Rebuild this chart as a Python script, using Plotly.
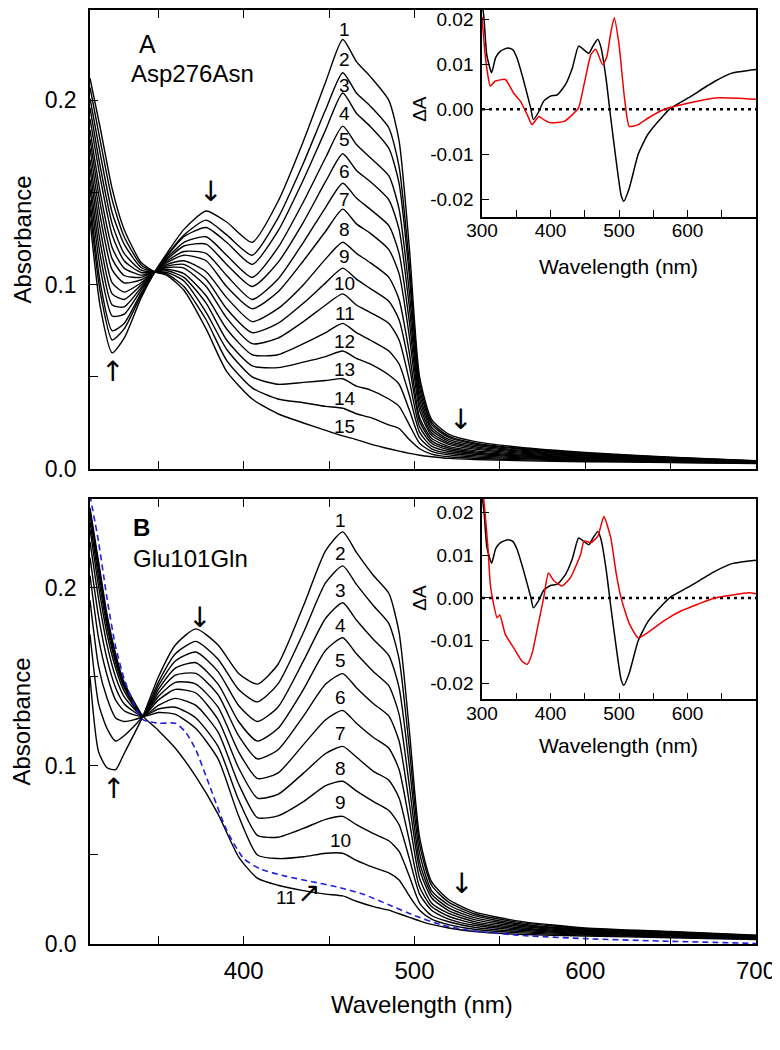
import plotly.graph_objects as go

# ---------------- Panel A: Asp276Asn spectra ----------------
WL_A = [310, 316, 323, 330, 340, 348, 355, 365, 378, 390, 405, 420, 435, 448, 458, 466, 474, 485, 491, 497, 503, 510, 520, 535, 560, 600, 650, 700]
A1 = [0.135, 0.088, 0.063, 0.071, 0.093, 0.107, 0.117, 0.130, 0.140, 0.134, 0.123, 0.145, 0.178, 0.210, 0.233, 0.221, 0.213, 0.200, 0.178, 0.120, 0.050, 0.027, 0.019, 0.015, 0.012, 0.009, 0.0065, 0.0045]
A2 = [0.141, 0.096, 0.070, 0.076, 0.0945, 0.107, 0.116, 0.127, 0.135, 0.127, 0.116, 0.136, 0.166, 0.195, 0.215, 0.204, 0.197, 0.185, 0.164, 0.111, 0.047, 0.0254, 0.0179, 0.0142, 0.0114, 0.0086, 0.0063, 0.0044]
A3 = [0.146, 0.101, 0.075, 0.079, 0.0956, 0.107, 0.1154, 0.126, 0.131, 0.123, 0.111, 0.129, 0.157, 0.184, 0.204, 0.193, 0.186, 0.174, 0.155, 0.105, 0.044, 0.0242, 0.0172, 0.0137, 0.0110, 0.0083, 0.0061, 0.0043]
A4 = [0.152, 0.109, 0.083, 0.084, 0.0972, 0.107, 0.1144, 0.123, 0.126, 0.116, 0.104, 0.120, 0.145, 0.169, 0.186, 0.176, 0.169, 0.159, 0.141, 0.096, 0.041, 0.0226, 0.0161, 0.0129, 0.0104, 0.0079, 0.0058, 0.0042]
A5 = [0.157, 0.116, 0.089, 0.088, 0.0985, 0.107, 0.1136, 0.121, 0.122, 0.111, 0.099, 0.112, 0.134, 0.156, 0.171, 0.162, 0.156, 0.146, 0.130, 0.088, 0.038, 0.0212, 0.0152, 0.0122, 0.0099, 0.0076, 0.0056, 0.0041]
A6 = [0.163, 0.123, 0.095, 0.092, 0.0999, 0.107, 0.1127, 0.118, 0.117, 0.105, 0.092, 0.103, 0.123, 0.142, 0.155, 0.147, 0.141, 0.132, 0.117, 0.080, 0.035, 0.0197, 0.0142, 0.0115, 0.0093, 0.0072, 0.0054, 0.0040]
A7 = [0.168, 0.130, 0.101, 0.096, 0.1011, 0.107, 0.1119, 0.116, 0.113, 0.099, 0.087, 0.096, 0.113, 0.129, 0.141, 0.133, 0.128, 0.119, 0.106, 0.072, 0.032, 0.0183, 0.0134, 0.0108, 0.0088, 0.0069, 0.0052, 0.0039]
A8 = [0.174, 0.137, 0.108, 0.101, 0.1027, 0.107, 0.1109, 0.113, 0.107, 0.093, 0.080, 0.087, 0.100, 0.114, 0.123, 0.117, 0.112, 0.104, 0.092, 0.063, 0.028, 0.0167, 0.0123, 0.0100, 0.0082, 0.0065, 0.0050, 0.0037]
A9 = [0.179, 0.144, 0.114, 0.105, 0.104, 0.107, 0.1101, 0.111, 0.103, 0.087, 0.074, 0.079, 0.090, 0.101, 0.109, 0.103, 0.098, 0.091, 0.081, 0.056, 0.026, 0.0153, 0.0114, 0.0093, 0.0077, 0.0061, 0.0048, 0.0036]
A10 = [0.184, 0.150, 0.120, 0.109, 0.1052, 0.107, 0.1093, 0.109, 0.099, 0.082, 0.068, 0.071, 0.080, 0.089, 0.095, 0.089, 0.085, 0.079, 0.070, 0.048, 0.023, 0.0140, 0.0105, 0.0087, 0.0072, 0.0058, 0.0046, 0.0035]
A11 = [0.190, 0.158, 0.127, 0.113, 0.1066, 0.107, 0.1084, 0.106, 0.094, 0.076, 0.062, 0.062, 0.068, 0.074, 0.079, 0.074, 0.070, 0.064, 0.057, 0.040, 0.020, 0.0124, 0.0095, 0.0080, 0.0067, 0.0054, 0.0044, 0.0034]
A12 = [0.196, 0.164, 0.133, 0.117, 0.1079, 0.107, 0.1076, 0.104, 0.090, 0.070, 0.056, 0.055, 0.058, 0.061, 0.064, 0.060, 0.057, 0.051, 0.046, 0.032, 0.017, 0.0110, 0.0086, 0.0073, 0.0062, 0.0051, 0.0041, 0.0033]
A13 = [0.201, 0.171, 0.139, 0.122, 0.1093, 0.107, 0.1067, 0.102, 0.085, 0.065, 0.050, 0.046, 0.047, 0.048, 0.049, 0.045, 0.043, 0.038, 0.034, 0.024, 0.014, 0.0096, 0.0077, 0.0066, 0.0057, 0.0047, 0.0039, 0.0032]
A14 = [0.207, 0.178, 0.146, 0.126, 0.1107, 0.107, 0.1058, 0.099, 0.081, 0.059, 0.044, 0.038, 0.036, 0.034, 0.033, 0.030, 0.028, 0.024, 0.022, 0.016, 0.011, 0.0081, 0.0067, 0.0059, 0.0051, 0.0044, 0.0037, 0.0031]
A15 = [0.212, 0.185, 0.152, 0.130, 0.112, 0.107, 0.105, 0.097, 0.076, 0.053, 0.038, 0.030, 0.025, 0.021, 0.018, 0.016, 0.0137, 0.011, 0.0097, 0.0085, 0.0075, 0.0067, 0.0058, 0.0052, 0.0046, 0.004, 0.0035, 0.003]
A_CURVES = [A1, A2, A3, A4, A5, A6, A7, A8, A9, A10, A11, A12, A13, A14, A15]
A_LABELS = [str(i) for i in range(1, 16)]
A_LABEL_WL = 459.3
A_LABEL_Y = [0.2386, 0.2219, 0.2083, 0.1926, 0.1786, 0.1613, 0.1461, 0.1299, 0.1153, 0.1006, 0.0844, 0.0693, 0.0541, 0.0384, 0.0233]

# ---------------- Panel B: Glu101Gln spectra ----------------
WL_B = [310, 315, 320, 325, 330, 341, 350, 360, 372, 385, 397, 408, 420, 435, 448, 458, 466, 476, 485, 491, 497, 503, 510, 520, 535, 560, 600, 650, 700]
B1 = [0.150, 0.108, 0.099, 0.098, 0.107, 0.128, 0.150, 0.168, 0.177, 0.168, 0.152, 0.146, 0.157, 0.190, 0.221, 0.2315, 0.220, 0.207, 0.197, 0.175, 0.120, 0.060, 0.035, 0.025, 0.018, 0.013, 0.009, 0.007, 0.005]
B2 = [0.174, 0.135, 0.121, 0.114, 0.117, 0.128, 0.147, 0.163, 0.170, 0.160, 0.143, 0.136, 0.146, 0.175, 0.203, 0.2124, 0.202, 0.190, 0.180, 0.160, 0.110, 0.056, 0.033, 0.0235, 0.017, 0.0123, 0.0086, 0.0067, 0.0048]
B3 = [0.193, 0.156, 0.138, 0.127, 0.125, 0.128, 0.145, 0.159, 0.164, 0.153, 0.134, 0.125, 0.133, 0.159, 0.183, 0.1917, 0.182, 0.171, 0.162, 0.144, 0.100, 0.051, 0.030, 0.0219, 0.0159, 0.0115, 0.0081, 0.0063, 0.0045]
B4 = [0.207, 0.172, 0.151, 0.137, 0.131, 0.128, 0.143, 0.155, 0.158, 0.146, 0.125, 0.114, 0.121, 0.143, 0.165, 0.1720, 0.163, 0.153, 0.145, 0.129, 0.089, 0.046, 0.028, 0.0203, 0.0148, 0.0108, 0.0077, 0.006, 0.0043]
B5 = [0.217, 0.184, 0.160, 0.144, 0.135, 0.128, 0.141, 0.151, 0.152, 0.140, 0.117, 0.104, 0.109, 0.128, 0.146, 0.1519, 0.144, 0.135, 0.128, 0.114, 0.079, 0.042, 0.026, 0.0188, 0.0137, 0.0101, 0.0072, 0.0056, 0.004]
B6 = [0.226, 0.194, 0.168, 0.150, 0.139, 0.128, 0.139, 0.147, 0.146, 0.133, 0.108, 0.093, 0.096, 0.112, 0.126, 0.1312, 0.124, 0.116, 0.110, 0.098, 0.069, 0.037, 0.023, 0.0172, 0.0126, 0.0093, 0.0068, 0.0053, 0.0038]
B7 = [0.233, 0.201, 0.174, 0.155, 0.142, 0.128, 0.137, 0.143, 0.141, 0.126, 0.099, 0.082, 0.084, 0.096, 0.107, 0.1110, 0.105, 0.097, 0.092, 0.082, 0.058, 0.032, 0.021, 0.0156, 0.0115, 0.0086, 0.0063, 0.0049, 0.0035]
B8 = [0.237, 0.206, 0.178, 0.158, 0.144, 0.128, 0.134, 0.138, 0.134, 0.119, 0.090, 0.071, 0.072, 0.080, 0.089, 0.0914, 0.086, 0.080, 0.075, 0.067, 0.048, 0.028, 0.019, 0.014, 0.0105, 0.0079, 0.0059, 0.0046, 0.0033]
B9 = [0.241, 0.210, 0.181, 0.160, 0.145, 0.128, 0.132, 0.133, 0.127, 0.111, 0.081, 0.061, 0.060, 0.065, 0.070, 0.0717, 0.067, 0.062, 0.058, 0.052, 0.038, 0.023, 0.016, 0.0125, 0.0094, 0.0071, 0.0055, 0.0043, 0.003]
B10 = [0.243, 0.213, 0.183, 0.162, 0.146, 0.128, 0.130, 0.129, 0.121, 0.104, 0.072, 0.050, 0.048, 0.049, 0.051, 0.0510, 0.047, 0.043, 0.040, 0.036, 0.027, 0.019, 0.014, 0.0109, 0.0083, 0.0064, 0.005, 0.0039, 0.0028]
B11 = [0.245, 0.215, 0.185, 0.163, 0.147, 0.128, 0.120, 0.110, 0.094, 0.073, 0.049, 0.037, 0.033, 0.030, 0.028, 0.027, 0.024, 0.021, 0.019, 0.017, 0.015, 0.013, 0.011, 0.009, 0.007, 0.0055, 0.0045, 0.0035, 0.0025]
B_CURVES = [B1, B2, B3, B4, B5, B6, B7, B8, B9, B10, B11]
B_LABELS = [str(i) for i in range(1, 11)]
B_LABEL_WL = 456.5
B_LABEL_Y = [0.2377, 0.2192, 0.1984, 0.1788, 0.1592, 0.1385, 0.1183, 0.0987, 0.0796, 0.0583]

WL_BLUE = [310, 315, 320, 325, 330, 336, 341, 350, 360, 366, 372, 380, 390, 400, 410, 425, 440, 455, 470, 485, 500, 515, 530, 560, 600, 650, 700]
BLUE = [0.252, 0.226, 0.194, 0.167, 0.149, 0.134, 0.126, 0.124, 0.124, 0.119, 0.109, 0.089, 0.064, 0.048, 0.042, 0.038, 0.035, 0.032, 0.028, 0.022, 0.016, 0.011, 0.008, 0.005, 0.003, 0.0015, 0.0003]

# ---------------- Insets: difference spectra ----------------
WL_DIFF_BLACK = [300, 303, 307, 314, 320, 327, 338, 345, 351, 361, 371, 375, 383, 390, 400, 410, 422, 432, 441, 451, 456, 462, 469, 474, 481, 488, 496, 503, 507, 515, 528, 542, 566, 576, 601, 640, 665, 700]
DIFF_BLACK = [0.024, 0.020, 0.012, 0.0081, 0.0115, 0.0129, 0.0136, 0.0132, 0.0114, 0.0062, 0.0003, -0.0023, -0.0005, 0.0018, 0.0029, 0.0032, 0.0055, 0.0092, 0.014, 0.0129, 0.0124, 0.014, 0.0155, 0.0135, 0.0069, -0.002, -0.0116, -0.019, -0.0204, -0.0175, -0.010, -0.0056, -0.0012, 0.0003, 0.0025, 0.0062, 0.008, 0.0088]
WL_RED_A = [300, 304, 307, 312, 319, 334, 346, 356, 366, 373, 383, 390, 400, 420, 432, 441, 449, 459, 466, 476, 482, 488, 493, 500, 508, 515, 528, 542, 566, 591, 640, 700]
RED_A = [0.0205, 0.013, 0.0091, 0.0051, 0.0062, 0.0066, 0.0036, 0.0018, -0.0012, -0.0034, -0.0016, -0.0023, -0.003, -0.0027, -0.0012, 0.0003, 0.0055, 0.0121, 0.0133, 0.0099, 0.0115, 0.017, 0.0203, 0.0144, 0.0025, -0.0038, -0.0034, -0.002, 0.0, 0.001, 0.0025, 0.0022]
WL_RED_B = [302, 306, 309, 312, 316, 322, 326, 334, 346, 358, 366, 373, 381, 390, 397, 405, 417, 429, 444, 449, 459, 469, 478, 488, 496, 503, 515, 528, 542, 566, 591, 616, 640, 690, 700]
RED_B = [0.024, 0.017, 0.011, 0.0033, -0.0007, -0.0046, -0.004, -0.0085, -0.0116, -0.0147, -0.0155, -0.013, -0.007, 0.0, 0.0058, 0.004, 0.0028, 0.0047, 0.0102, 0.0133, 0.0129, 0.0144, 0.019, 0.014, 0.0056, 0.0, -0.006, -0.0093, -0.0081, -0.0053, -0.003, -0.0014, 0.0, 0.0012, 0.001]

MAIN_X_TICKS = [400, 500, 600, 700]
MAIN_Y_TICKS = [0.0, 0.1, 0.2]
INSET_X_TICKS = [300, 400, 500, 600]
INSET_Y_TICKS = [-0.02, -0.01, 0.0, 0.01, 0.02]

FONT = "Liberation Sans, Arial, Helvetica, sans-serif"
ARROW_FONT = "DejaVu Sans"

fig = go.Figure()

line_main = dict(color="black", width=1.4, shape="spline", smoothing=0.6)
for c in A_CURVES:
    fig.add_trace(go.Scatter(x=WL_A, y=c, mode="lines", line=line_main, xaxis="x", yaxis="y", hoverinfo="skip"))
for c in B_CURVES:
    fig.add_trace(go.Scatter(x=WL_B, y=c, mode="lines", line=line_main, xaxis="x2", yaxis="y2", hoverinfo="skip"))
fig.add_trace(go.Scatter(x=WL_BLUE, y=BLUE, mode="lines", xaxis="x2", yaxis="y2", hoverinfo="skip",
                         line=dict(color="#1f1fdd", width=1.6, dash="6px,4px", shape="spline", smoothing=0.6)))

# insets
line_in_k = dict(color="black", width=1.5, shape="spline", smoothing=0.5)
line_in_r = dict(color="#ee0000", width=1.5, shape="spline", smoothing=0.5)
fig.add_trace(go.Scatter(x=WL_DIFF_BLACK, y=DIFF_BLACK, mode="lines", line=line_in_k, xaxis="x3", yaxis="y3", hoverinfo="skip"))
fig.add_trace(go.Scatter(x=WL_RED_A, y=RED_A, mode="lines", line=line_in_r, xaxis="x3", yaxis="y3", hoverinfo="skip"))
fig.add_trace(go.Scatter(x=WL_DIFF_BLACK, y=DIFF_BLACK, mode="lines", line=line_in_k, xaxis="x4", yaxis="y4", hoverinfo="skip"))
fig.add_trace(go.Scatter(x=WL_RED_B, y=RED_B, mode="lines", line=line_in_r, xaxis="x4", yaxis="y4", hoverinfo="skip"))

# empty traces to activate top-tick overlay axes
fig.add_trace(go.Scatter(x=[], y=[], xaxis="x5", yaxis="y", hoverinfo="skip"))
fig.add_trace(go.Scatter(x=[], y=[], xaxis="x6", yaxis="y2", hoverinfo="skip"))

tick_common = dict(ticks="inside", tickcolor="black", tickwidth=1.3, showgrid=False, zeroline=False,
                   linecolor="black", linewidth=1.5)

def main_x(anchor, labels):
    return dict(domain=[0, 1], anchor=anchor, range=[310, 700], showline=True, mirror=True,
                tickvals=MAIN_X_TICKS, ticklen=8, showticklabels=labels, tickfont=dict(size=24),
                ticklabelstandoff=4,
                minor=dict(ticks="inside", ticklen=8, tickvals=[350, 450, 550, 650], tickcolor="black", tickwidth=1.3, showgrid=False),
                **tick_common)

def main_y(domain, anchor, top):
    return dict(domain=domain, anchor=anchor, range=[0, top], showline=True, mirror=True,
                tickvals=MAIN_Y_TICKS, ticktext=["0.0", "0.1", "0.2"], ticklen=8, tickfont=dict(size=23),
                ticklabelstandoff=7,
                minor=dict(ticks="inside", ticklen=8, tickvals=[0.05, 0.15], tickcolor="black", tickwidth=1.3, showgrid=False),
                **tick_common)

def top_x(overlay, anchor):
    return dict(overlaying=overlay, anchor=anchor, side="top", range=[310, 700], showline=False,
                tickvals=[350, 400, 450, 500], ticks="inside", ticklen=8, tickcolor="black", tickwidth=1.3,
                showticklabels=False, showgrid=False, zeroline=False)

def inset_x(anchor):
    return dict(domain=[0.5886, 1], anchor=anchor, range=[300, 700], showline=True, mirror=False,
                tickvals=INSET_X_TICKS, ticklen=7, tickfont=dict(size=19), ticklabelstandoff=-4,
                minor=dict(ticks="inside", ticklen=7, tickvals=[350, 450, 550, 650], tickcolor="black", tickwidth=1.3, showgrid=False),
                **tick_common)

def inset_y(domain, anchor, rng):
    return dict(domain=domain, anchor=anchor, range=rng, showline=True, mirror=False,
                tickvals=INSET_Y_TICKS, ticktext=["-0.02", "-0.01", "0.00", "0.01", "0.02"], ticklen=7,
                tickfont=dict(size=19), ticklabelstandoff=3, **tick_common)

# the page adds an 8px body margin; the figure is sized so that it fills the 780x1050 window
fig.update_layout(
    width=772, height=1034,
    margin=dict(l=82, r=24, t=0, b=98),
    paper_bgcolor="white", plot_bgcolor="white", showlegend=False,
    font=dict(family=FONT, color="black", size=22),
    xaxis=main_x("y", False),
    yaxis=main_y([0.5085, 1.0], "x", 0.249),
    xaxis2=main_x("y2", True),
    yaxis2=main_y([0.0, 0.4765], "x2", 0.25),
    xaxis3=inset_x("y3"),
    yaxis3=inset_y([0.7788, 1.0], "x3", [-0.0238, 0.022]),
    xaxis4=inset_x("y4"),
    yaxis4=inset_y([0.2618, 0.4765], "x4", [-0.0237, 0.0231]),
    xaxis5=top_x("x", "y"),
    xaxis6=top_x("x2", "y2"),
)

# zero lines in the insets
for xr, yr in (("x3", "y3"), ("x4", "y4")):
    fig.add_shape(type="line", xref=xr, yref=yr, x0=300, x1=700, y0=0, y1=0, layer="below",
                  line=dict(color="black", width=2.5, dash="3px,4px"))

ann = []
# curve number labels
for lab, yv in zip(A_LABELS, A_LABEL_Y):
    ann.append(dict(x=A_LABEL_WL, y=yv, xref="x", yref="y", text=lab, showarrow=False, font=dict(size=19)))
for lab, yv in zip(B_LABELS, B_LABEL_Y):
    ann.append(dict(x=B_LABEL_WL, y=yv, xref="x2", yref="y2", text=lab, showarrow=False, font=dict(size=19)))

# panel letters and names
ann += [
    dict(x=343.4, y=0.2305, xref="x", yref="y", text="A", showarrow=False, font=dict(size=25)),
    dict(x=333.0, y=0.2143, xref="x", yref="y", text="Asp276Asn", xanchor="left", showarrow=False, font=dict(size=24)),
    dict(x=340.4, y=0.2337, xref="x2", yref="y2", text="<b>B</b>", showarrow=False, font=dict(size=24)),
    dict(x=334.0, y=0.2164, xref="x2", yref="y2", text="Glu101Gln", xanchor="left", showarrow=False, font=dict(size=24)),
]

# arrows (glyphs)
arr = [("↓", 380.3, 0.1504, "x", "y"), ("↑", 322.9, 0.053, "x", "y"), ("↓", 526.7, 0.027, "x", "y"),
       ("↓", 374.4, 0.1833, "x2", "y2"), ("↑", 323.5, 0.0874, "x2", "y2"), ("↓", 527.8, 0.034, "x2", "y2"),
       ("↗", 438.0, 0.029, "x2", "y2")]
for t, xv, yv, xr, yr in arr:
    ann.append(dict(x=xv, y=yv, xref=xr, yref=yr, text=t, showarrow=False, font=dict(size=28, family=ARROW_FONT)))
ann.append(dict(x=424.5, y=0.026, xref="x2", yref="y2", text="11", showarrow=False, font=dict(size=19)))

# axis titles
pa = dict(xref="paper", yref="paper", showarrow=False, xanchor="center", yanchor="middle")
ann += [
    dict(x=-0.1021, y=0.7543, text="Absorbance", textangle=-90, font=dict(size=24), **pa),
    dict(x=-0.1021, y=0.2382, text="Absorbance", textangle=-90, font=dict(size=24), **pa),
    dict(x=0.499, y=-0.0652, text="Wavelength (nm)", font=dict(size=24), **pa),
    dict(x=0.4955, y=0.8942, text="ΔA", textangle=-90, font=dict(size=19), **pa),
    dict(x=0.793, y=0.7254, text="Wavelength (nm)", font=dict(size=21), **pa),
    dict(x=0.4955, y=0.3707, text="ΔA", textangle=-90, font=dict(size=19), **pa),
    dict(x=0.793, y=0.2126, text="Wavelength (nm)", font=dict(size=21), **pa),
]
fig.update_layout(annotations=ann)

fig.write_html("out.html")
